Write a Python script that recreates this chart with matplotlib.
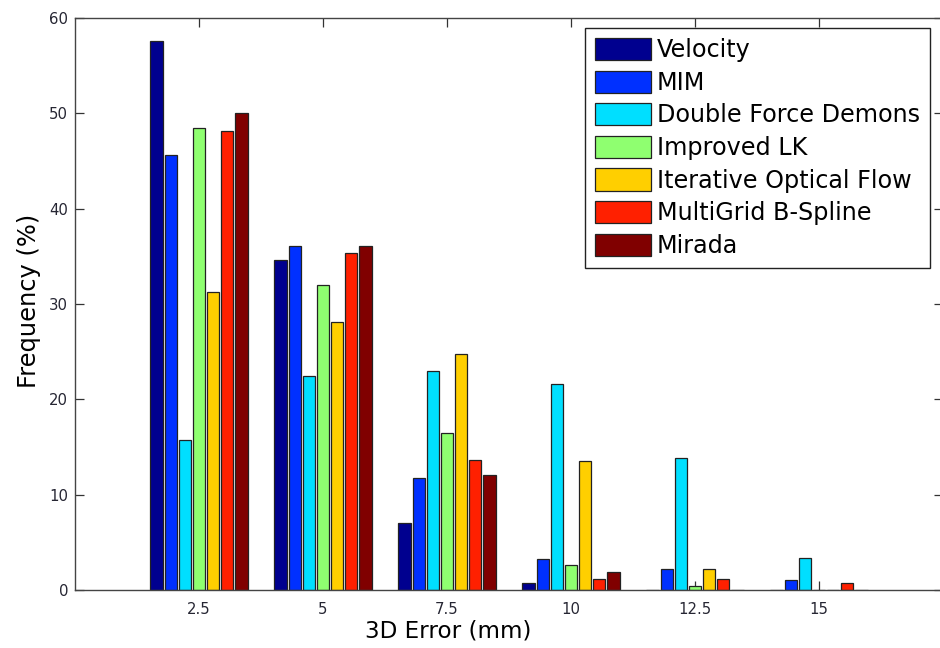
import numpy as np
import matplotlib
matplotlib.use("Agg")
import matplotlib.pyplot as plt

plt.rcParams['font.family'] = ['DejaVu Sans']

x_ticks = [2.5, 5, 7.5, 10, 12.5, 15]
x_tick_labels = ['2.5', '5', '7.5', '10', '12.5', '15']
series_names = ['Velocity', 'MIM', 'Double Force Demons', 'Improved LK',
                'Iterative Optical Flow', 'MultiGrid B-Spline', 'Mirada']
velocity = [57.6, 34.6, 7.0, 0.7, 0.0, 0.0]
mim = [45.6, 36.1, 11.7, 3.3, 2.2, 1.1]
dfd = [15.7, 22.5, 23.0, 21.6, 13.85, 3.35]
improved_lk = [48.5, 32.0, 16.5, 2.6, 0.45, 0.0]
iterative_of = [31.3, 28.1, 24.8, 13.55, 2.2, 0.0]
multigrid = [48.1, 35.4, 13.6, 1.15, 1.15, 0.7]
mirada = [50.0, 36.1, 12.1, 1.9, 0.0, 0.0]
series = [velocity, mim, dfd, improved_lk, iterative_of, multigrid, mirada]
colors = ['#00008F', '#0030FF', '#00DFFF', '#8FFF70', '#FFCF00', '#FF2000', '#800000']

fig = plt.figure(figsize=(9.4, 6.48), dpi=100)
ax = fig.add_axes([75/940, 58/648, 868/940, 572/648])

n = len(series)
slot = 2.5 * 0.8 / n
width = slot * 0.85
xs = np.array(x_ticks)
for i, (vals, col, name) in enumerate(zip(series, colors, series_names)):
    ax.bar(xs + (i - (n - 1) / 2) * slot, vals, width=width, color=col,
           edgecolor='#222222', linewidth=0.9, label=name, zorder=2)

ax.set_xlim(0, 17.5)
ax.set_ylim(0, 60)
ax.set_xticks(x_ticks)
ax.set_xticklabels(x_tick_labels)
ax.set_yticks(np.arange(0, 61, 10))
ax.tick_params(direction='in', length=6.3, width=0.9, color='#333333',
               top=True, right=True, labelsize=10.7, labelcolor='#262633')
ax.tick_params(axis='x', pad=9)
ax.tick_params(axis='y', pad=5)
for sp in ax.spines.values():
    sp.set_color('#444444')
    sp.set_linewidth(1.0)

ax.set_xlabel('3D Error (mm)', fontsize=16.6)
ax.set_ylabel('Frequency (%)', fontsize=17.4)
ax.xaxis.set_label_coords((448 - 75) / 868, (590 - 619.5) / 572)
ax.yaxis.set_label_coords((41 - 75) / 868, 0.505)

leg = ax.legend(loc='upper left', bbox_to_anchor=((585 - 75) / 868, (590 - 28) / 572),
                borderaxespad=0, fontsize=17.2, handlelength=2.34, handleheight=1.05,
                handletextpad=0.25, labelspacing=0.35, borderpad=0.42,
                fancybox=False, framealpha=1, edgecolor='#222222')
leg.get_frame().set_linewidth(1.0)

fig.savefig('out.png', dpi=100)
